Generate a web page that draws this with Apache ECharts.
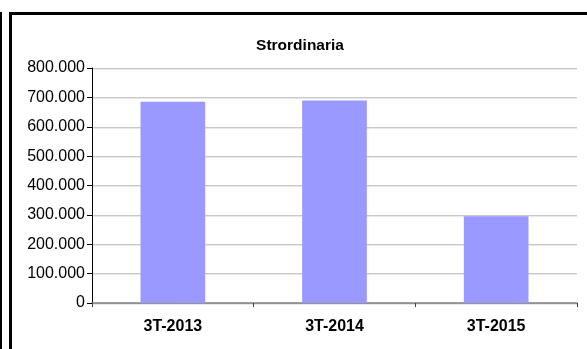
<!DOCTYPE html>
<html>
<head>
<meta charset="utf-8">
<script src="https://cdn.jsdelivr.net/npm/echarts@6/dist/echarts.min.js"></script>
<style>
  html, body { margin: 0; padding: 0; background: #fff; }
  #chart { width: 587px; height: 349px; }
</style>
</head>
<body>
<div id="chart"></div>
<script>
// Quarterly totals, overtime hours ("Strordinaria")
const chartTitle = 'Strordinaria';
const categories = ['3T-2013', '3T-2014', '3T-2015'];
const values = [685000, 689000, 295000];
const yMin = 0;
const yMax = 800000;
const yStep = 100000;

// Italian-style thousands separator: 800000 -> "800.000"
function fmtThousands(v) {
  return String(Math.round(v)).replace(/\B(?=(\d{3})+(?!\d))/g, '.');
}

const font = '"Liberation Sans", Arial, Helvetica, sans-serif';
const chart = echarts.init(document.getElementById('chart'), null, { renderer: 'canvas' });

chart.setOption({
  animation: false,
  backgroundColor: '#ffffff',
  graphic: [
    // frame lines
    { type: 'rect', shape: { x: 0, y: 12, width: 2, height: 337 }, style: { fill: '#000' } },
    { type: 'rect', shape: { x: 9, y: 12, width: 3, height: 337 }, style: { fill: '#000' } },
    { type: 'rect', shape: { x: 9, y: 12, width: 578, height: 3 }, style: { fill: '#000' } },
    {
      type: 'text', x: 300, y: 46,
      style: {
        text: chartTitle, align: 'center', verticalAlign: 'middle',
        font: 'bold 15.5px ' + font, fill: '#000'
      }
    }
  ],
  grid: { left: 92, right: 10, top: 68, bottom: 46, containLabel: false },
  xAxis: {
    type: 'category',
    data: categories,
    axisLine: { show: true, lineStyle: { color: '#808080', width: 1.5 } },
    axisTick: { show: true, alignWithLabel: false, length: 4, lineStyle: { color: '#404040' } },
    axisLabel: { color: '#000', fontFamily: font, fontSize: 16, fontWeight: 'bold', margin: 16 },
    splitLine: { show: false }
  },
  yAxis: {
    type: 'value',
    min: yMin, max: yMax, interval: yStep,
    axisLine: { show: true, lineStyle: { color: '#000', width: 1 } },
    axisTick: { show: true, length: 5, lineStyle: { color: '#000' } },
    axisLabel: {
      color: '#000', fontFamily: font, fontSize: 16, margin: 7,
      formatter: fmtThousands
    },
    splitLine: {
      show: true,
      lineStyle: { color: '#c8c8c8', width: 1, shadowColor: '#e8e8e8', shadowOffsetY: 1, shadowBlur: 0 }
    }
  },
  series: [{
    type: 'bar',
    data: values,
    barWidth: '40%',
    itemStyle: { color: '#9999ff' }
  }]
});
</script>
</body>
</html>
